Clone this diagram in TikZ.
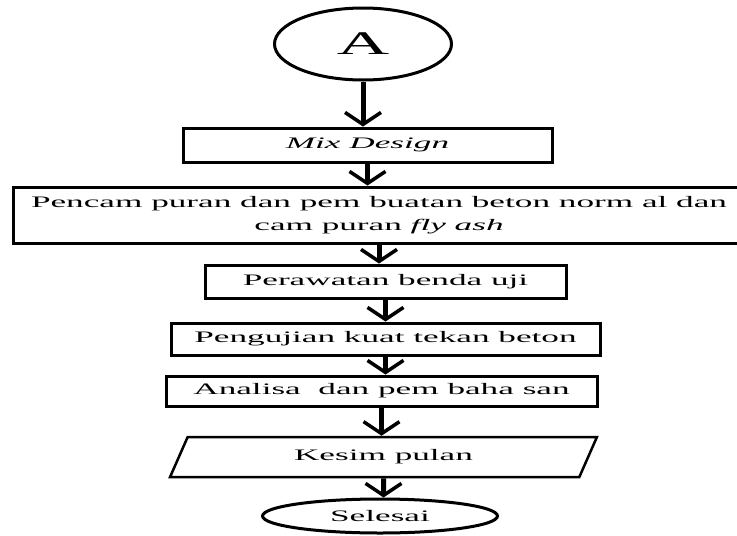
\documentclass[tikz,border=0pt]{standalone}
\usepackage{fontspec}
\setmainfont{Liberation Serif}
\usetikzlibrary{arrows.meta,shapes.geometric}

\newcommand{\lebar}[1]{\scalebox{2.2}[1]{#1}}

\begin{document}
\begin{tikzpicture}[x=1pt,y=-1pt,
        kotak/.style={draw, line width=3pt, rectangle, inner sep=0pt},
        oval/.style={draw, line width=3pt, ellipse, inner sep=0pt},
        data/.style={draw, line width=2.5pt, trapezium, trapezium left angle=61, trapezium right angle=119, trapezium stretches=true, inner sep=0pt},
        panah/.style={line width=5pt, -{Straight Barb[length=12pt,width=36pt,line width=3.5pt]}},
        font=\fontsize{16}{23}\selectfont]
        \useasboundingbox (0,0) rectangle (737,536);
        \node[oval, minimum width=177pt, minimum height=72pt] (A) at (363,44) {\fontsize{33}{33}\selectfont\lebar{A}};
        \node[kotak, minimum width=369pt, minimum height=34pt] (mix) at (367.5,145) {\lebar{\textit{Mix Design}}};
        \node[kotak, minimum width=732pt, minimum height=56pt, align=center] (campur) at (379,215) {\lebar{Pencam puran dan pem buatan beton norm al dan}\\ \lebar{cam puran \textit{fly ash}}};
        \node[kotak, minimum width=361pt, minimum height=33pt] (rawat) at (385.5,281.5) {\lebar{Perawatan benda uji}};
        \node[kotak, minimum width=429pt, minimum height=32pt] (uji) at (385.5,339) {\lebar{Pengujian kuat tekan beton}};
        \node[kotak, minimum width=431pt, minimum height=30pt] (analisa) at (381.5,391) {\lebar{Analisa~ dan pem baha san}};
        \node[data, minimum width=427pt, minimum height=40pt] (simpul) at (383.5,457) {\lebar{Kesim pulan}};
        \node[oval, minimum width=235pt, minimum height=34pt] (selesai) at (380,516) {\lebar{Selesai}};
        \draw[panah] (A) -- (A |- mix.north);
        \draw[panah] (mix) -- (mix |- campur.north);
        \draw[panah] (campur) -- (campur |- rawat.north);
        \draw[panah] (rawat) -- (rawat |- uji.north);
        \draw[panah] (uji) -- (uji |- analisa.north);
        \draw[panah] (analisa) -- (analisa |- simpul.north);
        \draw[panah] (simpul) -- (simpul |- selesai.north);
    \end{tikzpicture}
\end{document}
